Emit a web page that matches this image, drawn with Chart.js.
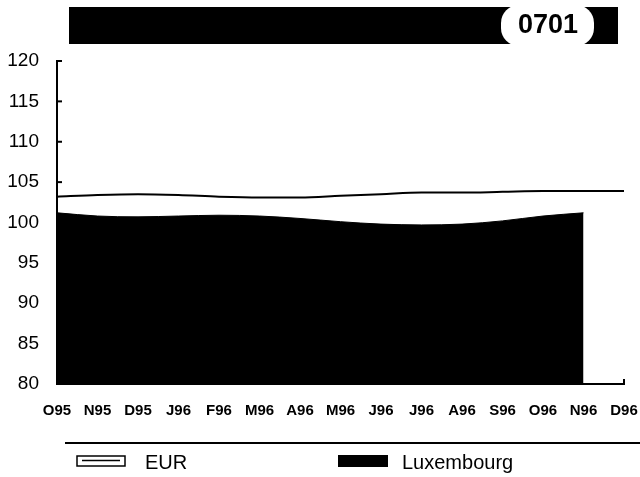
<!DOCTYPE html>
<html lang="en">
<head>
    <meta charset="UTF-8">
    <title>0701</title>
    <script src="https://cdn.jsdelivr.net/npm/chart.js"></script>
    <style>
      html, body { margin: 0; padding: 0; background: #fff; }
      #wrap { position: relative; width: 640px; height: 477px; }
    </style>
</head>
<body>
<div id="wrap">
    <canvas id="lineChart" width="640" height="477"></canvas>
</div>

<script>
    const months = ['O95', 'N95', 'D95', 'J96', 'F96', 'M96', 'A96', 'M96', 'J96', 'J96', 'A96', 'S96', 'O96', 'N96', 'D96'];
    const eurValues = [103.2, 103.4, 103.5, 103.4, 103.2, 103.1, 103.1, 103.3, 103.5, 103.7, 103.7, 103.8, 103.9, 103.9, 103.9];
    const luxValues = [101.2, 100.8, 100.7, 100.8, 100.9, 100.8, 100.5, 100.1, 99.8, 99.7, 99.8, 100.2, 100.8, 101.2, null];
    const yTicks = [80, 85, 90, 95, 100, 105, 110, 115, 120];
    const chartCode = '0701';
    const seriesNames = ['EUR', 'Luxembourg'];

    const fontFamily = '"Liberation Sans", Arial, Helvetica, sans-serif';

    // header bar, inward y ticks and the legend below the axis
    const decorations = {
      id: 'decorations',
      afterDraw(chart) {
        const ctx = chart.ctx;
        const y = chart.scales.y;
        ctx.save();

        // title bar
        ctx.fillStyle = '#000';
        ctx.fillRect(69, 7, 549, 37);
        ctx.fillStyle = '#fff';
        ctx.beginPath();
        ctx.roundRect(501, 5, 93, 41, 18);
        ctx.fill();
        ctx.fillStyle = '#000';
        ctx.font = 'bold 27px ' + fontFamily;
        ctx.textAlign = 'center';
        ctx.textBaseline = 'middle';
        ctx.fillText(chartCode, 548, 26);

        // inward tick marks on y axis
        ctx.strokeStyle = '#000';
        ctx.lineWidth = 2;
        yTicks.forEach(v => {
          const py = y.getPixelForValue(v);
          ctx.beginPath();
          ctx.moveTo(chart.chartArea.left, py);
          ctx.lineTo(chart.chartArea.left + 5, py);
          ctx.stroke();
        });
        // end tick on x axis
        const xr = chart.chartArea.right;
        ctx.beginPath();
        ctx.moveTo(xr, chart.chartArea.bottom);
        ctx.lineTo(xr, chart.chartArea.bottom - 5);
        ctx.stroke();

        // legend rule
        ctx.lineWidth = 2;
        ctx.beginPath();
        ctx.moveTo(65, 443);
        ctx.lineTo(640, 443);
        ctx.stroke();

        // legend items
        ctx.lineWidth = 1.5;
        ctx.strokeRect(77, 456, 48, 10);
        ctx.beginPath();
        ctx.moveTo(82, 460.5);
        ctx.lineTo(120, 460.5);
        ctx.stroke();
        ctx.fillRect(338, 455, 50, 12);

        ctx.font = '20px ' + fontFamily;
        ctx.textAlign = 'left';
        ctx.fillText(seriesNames[0], 145, 463);
        ctx.fillText(seriesNames[1], 402, 463);
        ctx.restore();
      }
    };

    const ctx = document.getElementById('lineChart').getContext('2d');
    new Chart(ctx, {
      type: 'line',
      data: {
        labels: months,
        datasets: [
          {
            label: seriesNames[1],
            data: luxValues,
            borderColor: '#000',
            backgroundColor: '#000',
            borderWidth: 1,
            fill: 'start',
            pointRadius: 0,
            cubicInterpolationMode: 'monotone',
            spanGaps: false
          },
          {
            label: seriesNames[0],
            data: eurValues,
            borderColor: '#000',
            borderWidth: 2,
            fill: false,
            pointRadius: 0,
            cubicInterpolationMode: 'monotone'
          }
        ]
      },
      options: {
        responsive: false,
        animation: false,
        events: [],
        layout: {
          padding: { top: 61, right: 16, bottom: 0, left: 0 }
        },
        plugins: {
          legend: { display: false },
          title: { display: false },
          tooltip: { enabled: false }
        },
        scales: {
          x: {
            offset: false,
            grid: { display: false },
            border: { display: true, color: '#000', width: 2 },
            ticks: {
              color: '#000',
              padding: 10,
              maxRotation: 0,
              autoSkip: false,
              font: { family: fontFamily, size: 15, weight: 'bold' }
            },
            afterFit(scale) {
              scale.height = 93;
              scale.paddingLeft = 0;
              scale.paddingRight = 0;
            }
          },
          y: {
            min: 80,
            max: 120,
            grid: { display: false },
            border: { display: true, color: '#000', width: 2 },
            afterBuildTicks(scale) {
              scale.ticks = yTicks.map(v => ({ value: v }));
            },
            ticks: {
              color: '#000',
              padding: 10,
              font: { family: fontFamily, size: 19 }
            },
            afterFit(scale) { scale.width = 57; }
          }
        }
      },
      plugins: [decorations]
    });
</script>
</body>
</html>
